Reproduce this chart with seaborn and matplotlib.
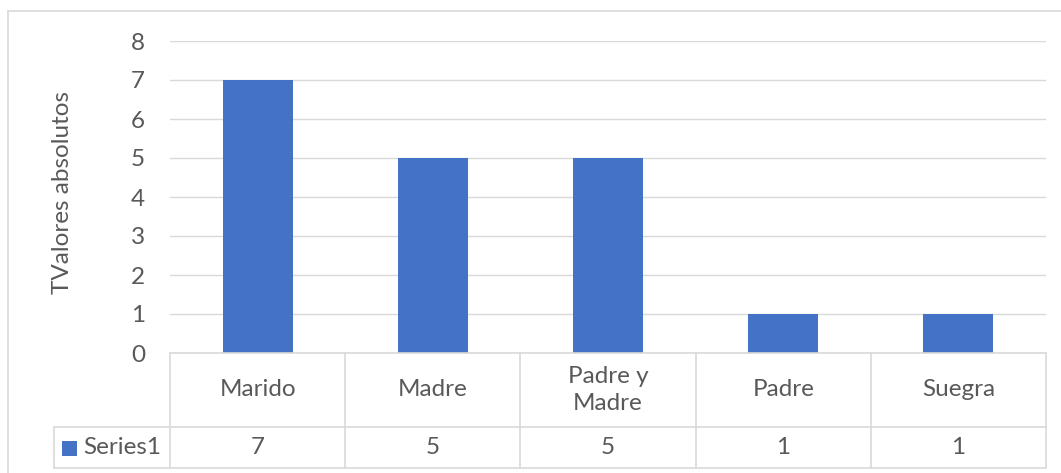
import textwrap

import matplotlib
matplotlib.use("Agg")
import matplotlib.pyplot as plt
import seaborn as sns
from matplotlib.lines import Line2D
from matplotlib.patches import Rectangle

# datos del gráfico
categorias = ["Marido", "Madre", "Padre y Madre", "Padre", "Suegra"]
valores = [7, 5, 5, 1, 1]
serie = "Series1"
y_ticks = [0, 1, 2, 3, 4, 5, 6, 7, 8]
y_label = "TValores absolutos"

AZUL = "#4472C4"
GRIS_TEXTO = "#595959"
GRIS_LINEA = "#D9D9D9"
W, H = 1061, 473

sns.set_theme(style="white")
plt.rcParams["font.family"] = ["Lato", "DejaVu Sans"]
FS = 17.5

fig = plt.figure(figsize=(W / 100, H / 100), dpi=100)
fig.patch.set_facecolor("white")

# plot area in pixels: x 170..1046, y 41..353
ax = fig.add_axes([170 / W, (H - 353) / H, 876 / W, 312 / H])

sns.barplot(x=categorias, y=valores, color=AZUL, saturation=1, width=0.4,
            linewidth=0, ax=ax)

ax.set_xlim(-0.5, len(categorias) - 0.5)
ax.set_ylim(0, 8)
ax.set_yticks(y_ticks)
ax.set_yticklabels([str(t) for t in y_ticks], fontsize=FS, color=GRIS_TEXTO)
ax.tick_params(axis="y", length=0, pad=18)
ax.set_xticks([])
ax.set_xlabel("")
for s in ax.spines.values():
    s.set_visible(False)
ax.yaxis.grid(True, color=GRIS_LINEA, linewidth=1.0)
ax.set_axisbelow(True)

ax.set_ylabel(y_label, fontsize=FS, color=GRIS_TEXTO)
ax.yaxis.label.set_va("center")
ax.yaxis.set_label_coords(-0.123, 0.516)

# data table under the axis
n = len(categorias)
y_top, y_mid, y_bot = 0.0, -0.237, -0.369
x_left = -0.1324
kw = dict(transform=ax.transAxes, clip_on=False, color=GRIS_LINEA, lw=1.2)
ax.add_line(Line2D([0, 1], [y_top, y_top], **kw))
ax.add_line(Line2D([x_left, 1], [y_mid, y_mid], **kw))
ax.add_line(Line2D([x_left, 1], [y_bot, y_bot], **kw))
ax.add_line(Line2D([x_left, x_left], [y_mid, y_bot], **kw))
for i in range(n + 1):
    ax.add_line(Line2D([i / n, i / n], [y_top, y_bot], **kw))

for i, (cat, val) in enumerate(zip(categorias, valores)):
    xc = (i + 0.5) / n
    ax.text(xc, (y_top + y_mid) / 2, textwrap.fill(cat, 8), transform=ax.transAxes,
            ha="center", va="center", fontsize=FS, color=GRIS_TEXTO,
            linespacing=1.3)
    ax.text(xc, (y_mid + y_bot) / 2, str(val), transform=ax.transAxes,
            ha="center", va="center", fontsize=FS, color=GRIS_TEXTO)

# legend key in the table
ax.add_patch(Rectangle(((62 - 170) / 876, (353 - 456) / 312), 15 / 876, 15 / 312,
                       transform=ax.transAxes, clip_on=False,
                       facecolor=AZUL, edgecolor="none"))
ax.text((83 - 170) / 876, (y_mid + y_bot) / 2, serie, transform=ax.transAxes,
        ha="left", va="center", fontsize=FS, color=GRIS_TEXTO)

# chart border (only left and top edges are inside the picture)
fig.add_artist(Line2D([8 / W, 8 / W], [0, 1 - 11 / H], transform=fig.transFigure,
                      color=GRIS_LINEA, lw=1.2))
fig.add_artist(Line2D([8 / W, 1], [1 - 11 / H, 1 - 11 / H], transform=fig.transFigure,
                      color=GRIS_LINEA, lw=1.2))

fig.savefig("out.png", dpi=100, facecolor="white")
